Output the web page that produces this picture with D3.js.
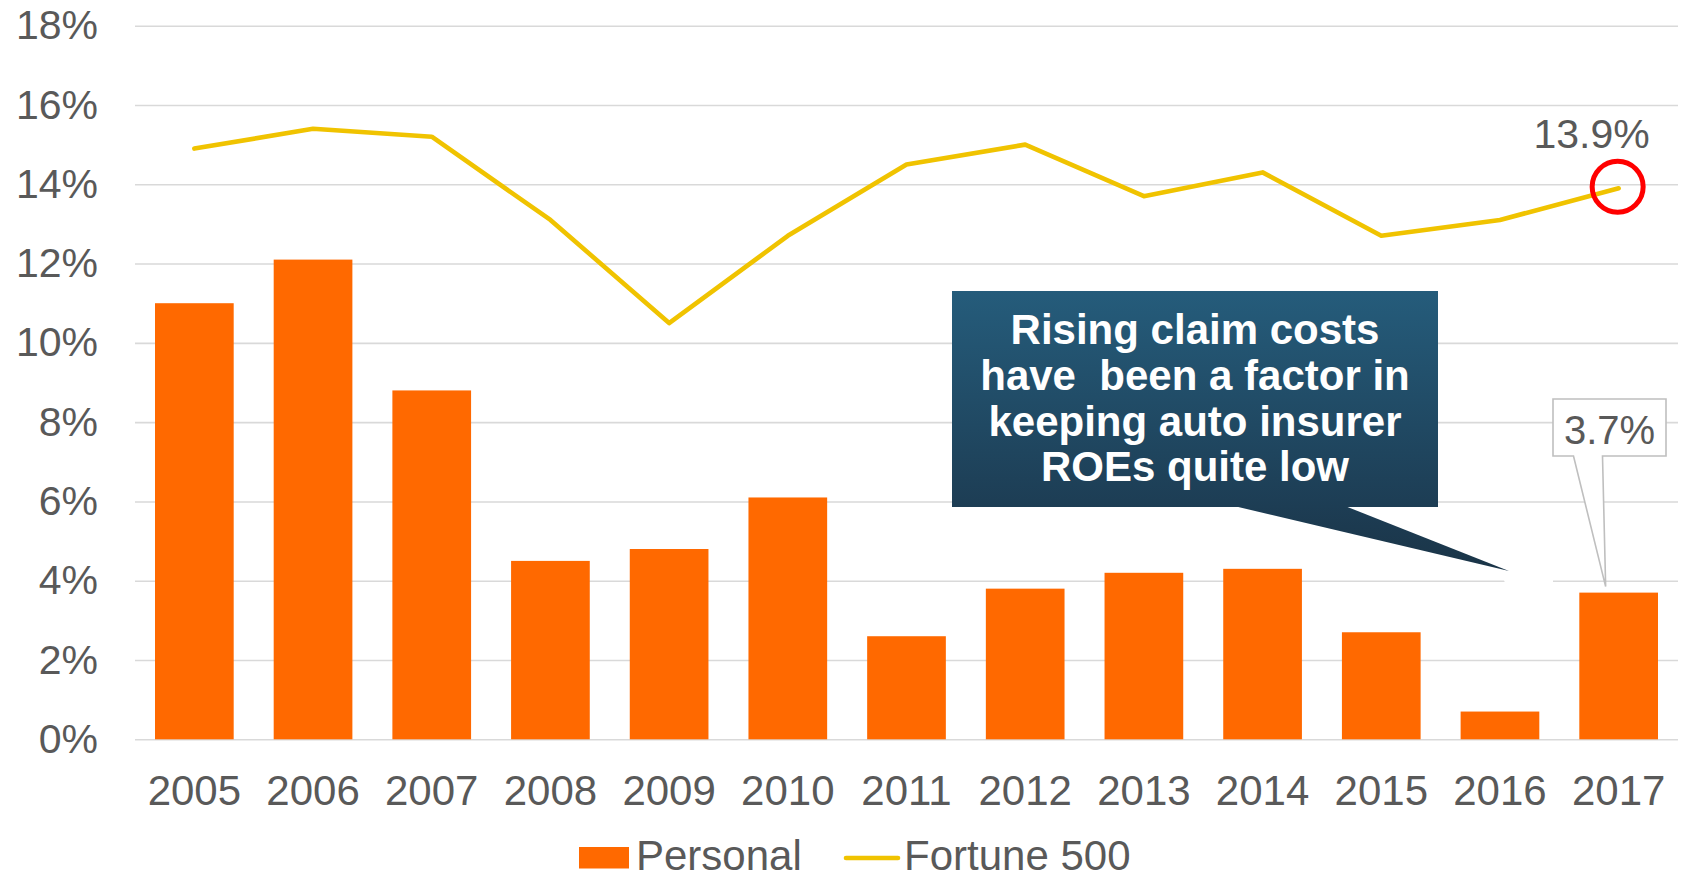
<!DOCTYPE html>
<html>
<head>
<meta charset="utf-8">
<script src="https://cdn.jsdelivr.net/npm/d3@7"></script>
<style>
  html, body { margin: 0; padding: 0; background: #ffffff; }
  svg { display: block; font-family: "Liberation Sans", Arial, sans-serif; }
</style>
</head>
<body>
<svg id="chart" width="1683" height="879"></svg>
<script>
// Return on equity: personal auto insurers vs. Fortune 500, 2005-2017
const years = ["2005", "2006", "2007", "2008", "2009", "2010", "2011",
               "2012", "2013", "2014", "2015", "2016", "2017"];
const personal = [11.0, 12.1, 8.8, 4.5, 4.8, 6.1, 2.6, 3.8, 4.2, 4.3, 2.7, 0.7, 3.7];
const fortune500 = [14.9, 15.4, 15.2, 13.1, 10.5, 12.7, 14.5, 15.0, 13.7, 14.3, 12.7, 13.1, 13.9];
const yTicks = [0, 2, 4, 6, 8, 10, 12, 14, 16, 18];
const seriesNames = ["Personal", "Fortune 500"];
const calloutLines = ["Rising claim costs", "have  been a factor in", "keeping auto insurer", "ROEs quite low"];

const textColor = "#595959";
const barColor = "#ff6900";
const lineColor = "#f0c300";
const gridColor = "#d9d9d9";

const svg = d3.select("#chart");

const x = d3.scaleBand()
  .domain(years)
  .range([135, 1678])
  .paddingInner(0.337)
  .paddingOuter(0.1685);

const y = d3.scaleLinear()
  .domain([0, 18])
  .range([739.3, 25.7]);

const cx = d => x(d) + x.bandwidth() / 2;

// gridlines + y tick labels
const yAxis = d3.axisLeft(y)
  .tickValues(yTicks)
  .tickFormat(d => d + "%")
  .tickSize(-(1678 - 135))
  .tickPadding(37);

const gy = svg.append("g")
  .attr("transform", "translate(135,0)")
  .call(yAxis);
gy.select(".domain").remove();
gy.selectAll(".tick line").attr("stroke", gridColor).attr("stroke-width", 1.6);
gy.selectAll(".tick text")
  .attr("fill", textColor)
  .attr("font-size", 41)
  .attr("font-family", "'Liberation Sans', Arial, sans-serif");

// x axis labels
const xAxis = d3.axisBottom(x).tickSize(0).tickPadding(0);
const gx = svg.append("g")
  .attr("transform", "translate(0,739.3)")
  .call(xAxis);
gx.select(".domain").remove();
gx.selectAll(".tick text")
  .attr("fill", textColor)
  .attr("font-size", 42)
  .attr("font-family", "'Liberation Sans', Arial, sans-serif")
  .attr("dy", null)
  .attr("y", 66);

// faint white wedge that interrupts the 4% gridline near the callout tip
svg.append("polygon")
  .attr("points", "1500,571 1553,577 1553,585 1506,585")
  .attr("fill", "#ffffff");

// bars
svg.append("g")
  .selectAll("rect")
  .data(personal)
  .join("rect")
  .attr("x", (d, i) => x(years[i]))
  .attr("width", x.bandwidth())
  .attr("y", d => y(d))
  .attr("height", d => y(0) - y(d))
  .attr("fill", barColor);

// Fortune 500 line
const line = d3.line()
  .x((d, i) => cx(years[i]))
  .y(d => y(d));

svg.append("path")
  .datum(fortune500)
  .attr("d", line)
  .attr("fill", "none")
  .attr("stroke", lineColor)
  .attr("stroke-width", 4.6)
  .attr("stroke-linecap", "round")
  .attr("stroke-linejoin", "round");

// highlight the latest Fortune 500 value
const lastIdx = years.length - 1;
const lastX = cx(years[lastIdx]);
const lastY = y(fortune500[lastIdx]);
svg.append("circle")
  .attr("cx", lastX - 1)
  .attr("cy", lastY - 1.5)
  .attr("r", 25.5)
  .attr("fill", "none")
  .attr("stroke", "#ff0000")
  .attr("stroke-width", 5);
svg.append("text")
  .attr("x", lastX - 27)
  .attr("y", lastY - 40)
  .attr("text-anchor", "middle")
  .attr("fill", textColor)
  .attr("font-size", 41)
  .text(fortune500[lastIdx].toFixed(1) + "%");

// 3.7% data callout with leader
const barTopY = y(personal[lastIdx]);
const lb = { x0: 1553, x1: 1666, y0: 399, y1: 456 };
const tip = [lastX - 13, barTopY - 6];
svg.append("path")
  .attr("d", `M${lb.x0},${lb.y0} H${lb.x1} V${lb.y1} H1602.5 L${tip[0]},${tip[1]} L1573.5,${lb.y1} H${lb.x0} Z`)
  .attr("fill", "#ffffff")
  .attr("stroke", "#bfbfbf")
  .attr("stroke-width", 1.6)
  .attr("stroke-linejoin", "miter");
svg.append("text")
  .attr("x", (lb.x0 + lb.x1) / 2)
  .attr("y", 444)
  .attr("text-anchor", "middle")
  .attr("fill", textColor)
  .attr("font-size", 40)
  .text(personal[lastIdx].toFixed(1) + "%");

// annotation speech bubble
const defs = svg.append("defs");
const boxGrad = defs.append("linearGradient")
  .attr("id", "boxGrad").attr("x1", 0).attr("y1", 0).attr("x2", 0).attr("y2", 1);
boxGrad.append("stop").attr("offset", "0%").attr("stop-color", "#255c7b");
boxGrad.append("stop").attr("offset", "100%").attr("stop-color", "#1d3d54");
const ptrGrad = defs.append("linearGradient")
  .attr("id", "ptrGrad").attr("x1", 0).attr("y1", 0).attr("x2", 0).attr("y2", 1);
ptrGrad.append("stop").attr("offset", "0%").attr("stop-color", "#1d3d54");
ptrGrad.append("stop").attr("offset", "100%").attr("stop-color", "#1a3447");

const box = { x0: 952, x1: 1438, y0: 291, y1: 507 };
svg.append("polygon")
  .attr("points", `1234,${box.y1 - 1} 1345,${box.y1 - 1} 1509,571`)
  .attr("fill", "url(#ptrGrad)");
svg.append("rect")
  .attr("x", box.x0).attr("y", box.y0)
  .attr("width", box.x1 - box.x0).attr("height", box.y1 - box.y0)
  .attr("fill", "url(#boxGrad)");
svg.append("g")
  .selectAll("text")
  .data(calloutLines)
  .join("text")
  .attr("x", (box.x0 + box.x1) / 2)
  .attr("y", (d, i) => 344 + i * 45.8)
  .attr("text-anchor", "middle")
  .attr("fill", "#ffffff")
  .attr("font-weight", "bold")
  .attr("font-size", 42)
  .style("white-space", "pre")
  .text(d => d);

// legend
const legend = svg.append("g");
legend.append("rect")
  .attr("x", 579).attr("y", 847).attr("width", 50).attr("height", 21.5)
  .attr("fill", barColor);
legend.append("text")
  .attr("x", 636).attr("y", 870)
  .attr("fill", textColor).attr("font-size", 42)
  .text(seriesNames[0]);
legend.append("line")
  .attr("x1", 846).attr("x2", 898).attr("y1", 858).attr("y2", 858)
  .attr("stroke", lineColor).attr("stroke-width", 4.6).attr("stroke-linecap", "round");
legend.append("text")
  .attr("x", 904).attr("y", 870)
  .attr("fill", textColor).attr("font-size", 42)
  .text(seriesNames[1]);
</script>
</body>
</html>
